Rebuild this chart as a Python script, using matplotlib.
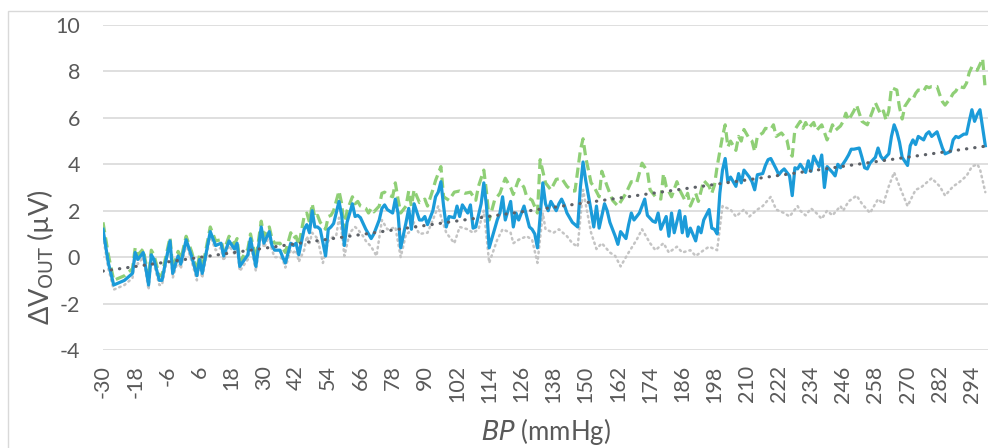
import matplotlib.pyplot as plt
from matplotlib.patches import Rectangle

plt.rcParams.update({
    "font.family": "sans-serif",
    "font.sans-serif": ["Lato", "DejaVu Sans"],
    "mathtext.default": "regular",
    "axes.unicode_minus": False,
})

# blue (solid) series: BP (mmHg) and dV_out (uV)
blue_bp = [-30, -28, -26, -22, -19, -18, -17, -15, -13, -12, -11, -9, -8, -7, -5, -4, -2, -1,
           1, 3, 5, 6, 7, 9, 10, 12, 14, 15, 17, 19, 20, 21, 24, 25, 27, 29, 30, 32, 33, 34,
           36, 37, 38, 40, 41, 42, 43, 45, 46, 47, 48, 49, 50, 51, 53, 54, 55, 56, 58, 59,
           60, 61, 63, 64, 65, 66, 68, 69, 70, 71, 73, 74, 75, 76, 78, 79, 80, 81, 83, 84,
           85, 86, 88, 89, 90, 91, 93, 94, 95, 96, 97, 98, 99, 101, 102, 103, 104, 106, 107, 108,
           109, 111, 112, 113, 114, 116, 117, 118, 119, 120, 122, 123, 124, 125, 127, 129, 130, 131, 132, 133,
           134, 135, 136, 137, 139, 140, 141, 142, 143, 145, 147, 148, 149, 150, 152, 153, 154, 155, 157, 158,
           159, 160, 161, 162, 163, 165, 166, 167, 168, 170, 171, 172, 173, 175, 176, 177, 178, 180, 181, 182,
           183, 185, 186, 187, 188, 189, 191, 192, 193, 194, 196, 197, 198, 199, 200, 201, 202, 203, 204, 206,
           207, 208, 209, 211, 212, 213, 214, 216, 217, 218, 219, 221, 222, 223, 224, 226, 227, 228, 229, 230,
           232, 233, 234, 235, 237, 238, 239, 240, 242, 243, 244, 245, 247, 248, 249, 250, 252, 253, 254, 255,
           256, 258, 259, 260, 261, 263, 264, 265, 266, 267, 268, 270, 271, 272, 273, 274, 276, 277, 278, 279,
           281, 282, 283, 284, 286, 287, 288, 289, 291, 292, 293, 294, 295, 296, 297, 299]
blue_dv = [1.2, -0.25, -1.2, -1.0, -0.7, 0.2, -0.1, 0.2, -1.2, 0.1, -0.1, -1.0, -1.0, -0.4, 0.7, -0.7, 0.05, -0.3,
           0.75, 0.05, -0.8, -0.1, -0.7, 0.5, 1.1, 0.5, 0.6, 0.05, 0.7, 0.35, 0.6, -0.4, 0.1, 0.8, -0.4, 1.3, 0.6, 1.1, 0.5, 0.3,
           0.3, 0.0, -0.25, 0.6, 0.5, 0.6, 0.1, 1.2, 1.4, 1.05, 2.0, 1.3, 1.3, 1.2, 0.05, 1.2, 1.3, 1.45, 2.4, 1.8,
           0.5, 1.5, 2.3, 1.75, 1.8, 1.7, 1.2, 1.0, 0.8, 1.0, 1.6, 2.1, 2.25, 2.05, 1.9, 2.5, 1.9, 0.4, 1.5, 2.1,
           1.2, 2.3, 1.6, 1.6, 1.75, 1.4, 2.0, 2.6, 2.8, 3.25, 2.2, 1.3, 1.75, 1.7, 2.2, 1.75, 2.25, 1.9, 2.25, 1.25,
           1.3, 2.3, 3.2, 2.2, 0.4, 1.2, 1.6, 1.9, 2.6, 1.6, 2.4, 1.3, 1.9, 1.6, 2.2, 1.3, 1.2, 1.0, 0.4, 1.75,
           3.2, 2.3, 2.0, 2.4, 2.0, 2.3, 2.5, 2.25, 1.9, 1.5, 1.3, 3.0, 4.1, 3.3, 2.0, 1.3, 2.2, 1.25, 2.3, 2.0,
           1.5, 1.2, 0.9, 0.55, 1.1, 0.8, 1.4, 1.9, 1.6, 1.9, 2.2, 2.5, 1.8, 1.55, 1.5, 1.9, 1.2, 1.75, 0.9, 1.9,
           1.05, 2.0, 1.05, 1.75, 0.9, 1.25, 0.7, 1.3, 1.05, 1.6, 2.05, 1.25, 1.2, 1.0, 2.75, 3.75, 4.25, 3.25, 3.45, 3.05,
           3.6, 3.2, 3.75, 3.45, 3.25, 2.9, 3.55, 3.6, 3.95, 4.2, 4.25, 3.8, 3.55, 3.7, 3.8, 3.5, 2.65, 3.85, 3.8, 4.0,
           3.65, 4.15, 3.7, 4.35, 3.9, 4.4, 3.0, 3.9, 3.65, 3.5, 4.0, 3.85, 4.2, 4.4, 4.65, 4.65, 4.7, 4.3, 3.85, 3.8,
           4.05, 4.3, 4.7, 4.35, 4.2, 4.45, 5.2, 5.7, 5.4, 4.95, 4.3, 3.95, 4.8, 5.05, 4.85, 5.2, 5.05, 5.3, 5.4, 5.2,
           5.4, 5.05, 4.7, 4.45, 4.55, 5.05, 5.2, 5.15, 5.3, 5.3, 5.85, 6.35, 5.85, 6.15, 6.35, 4.8]

# green (dashed) series
green_bp = [-30, -28, -26, -22, -19, -18, -17, -15, -13, -12, -11, -9, -8, -7, -5, -4, -2, -1,
            1, 3, 5, 6, 7, 9, 10, 12, 14, 15, 17, 19, 20, 21, 24, 25, 27, 29, 30, 32, 33, 34,
            36, 37, 38, 40, 41, 42, 43, 45, 46, 47, 48, 49, 50, 51, 53, 54, 55, 56, 58, 59,
            60, 61, 63, 64, 65, 66, 68, 69, 70, 71, 73, 74, 75, 76, 78, 79, 80, 81, 83, 84,
            85, 86, 88, 89, 90, 91, 93, 94, 95, 96, 97, 99, 101, 103, 105, 107, 109, 110, 112, 113,
            114, 116, 118, 120, 122, 123, 125, 127, 128, 130, 132, 133, 135, 137, 139, 141, 143, 145, 146, 148,
            149, 150, 152, 153, 155, 156, 158, 160, 162, 165, 167, 169, 171, 173, 174, 176, 178, 179, 180, 182,
            184, 185, 187, 188, 189, 191, 192, 194, 196, 197, 198, 199, 201, 202, 203, 204, 206, 207, 208, 209,
            211, 212, 213, 214, 216, 217, 219, 220, 221, 223, 225, 226, 227, 228, 230, 231, 232, 233, 235, 236,
            238, 240, 241, 242, 243, 245, 246, 247, 248, 250, 251, 252, 253, 255, 257, 258, 260, 261, 262, 263,
            264, 266, 267, 268, 269, 271, 272, 273, 274, 276, 277, 278, 279, 281, 282, 283, 284, 286, 287, 288,
            289, 291, 292, 293, 294, 296, 297, 298, 299]
green_dv = [1.5, 0.1, -1.0, -0.8, -0.5, 0.4, 0.1, 0.35, -0.9, 0.3, 0.1, -0.8, -0.8, -0.2, 0.85, -0.5, 0.25, -0.1,
            0.9, 0.25, -0.6, 0.1, -0.5, 0.7, 1.3, 0.7, 0.75, 0.25, 0.9, 0.55, 0.8, -0.2, 0.35, 1.0, -0.1, 1.55, 0.9, 1.3, 0.8, 0.6,
            0.6, 0.4, 0.2, 1.05, 0.8, 0.9, 0.5, 1.75, 1.9, 1.5, 2.3, 1.7, 1.8, 1.5, 1.2, 1.75, 1.8, 2.0, 2.85, 2.3,
            1.2, 2.0, 2.6, 2.3, 2.4, 2.2, 2.1, 1.9, 2.1, 1.95, 2.2, 2.75, 2.8, 2.7, 2.6, 3.2, 2.5, 1.9, 2.2, 2.85,
            2.2, 2.9, 2.35, 2.4, 2.5, 2.2, 2.9, 3.3, 3.6, 3.9, 2.6, 2.45, 2.8, 2.85, 2.75, 2.8, 2.45, 3.05, 3.75, 2.8,
            1.6, 2.45, 2.75, 3.4, 3.0, 2.7, 3.35, 3.0, 2.6, 2.45, 1.9, 4.2, 3.2, 2.9, 3.35, 3.4, 3.05, 2.85, 2.85, 4.6,
            5.1, 4.3, 3.2, 3.05, 2.6, 3.7, 3.05, 2.45, 2.2, 2.75, 3.25, 3.2, 4.05, 3.7, 2.9, 2.6, 2.5, 3.6, 3.05, 2.6,
            3.25, 2.9, 2.45, 2.75, 2.2, 2.75, 2.4, 3.3, 3.05, 2.75, 3.1, 3.9, 5.2, 5.7, 4.75, 5.0, 4.6, 5.2, 5.0, 5.5,
            5.1, 5.0, 4.55, 5.2, 5.35, 5.55, 5.5, 5.7, 5.2, 5.35, 5.05, 4.5, 4.35, 5.5, 5.85, 5.55, 5.8, 5.55, 5.8, 5.45,
            5.7, 5.05, 5.35, 5.7, 5.45, 5.65, 5.85, 6.2, 5.9, 6.3, 6.55, 6.2, 5.85, 5.7, 6.3, 6.65, 6.15, 6.3, 5.9, 6.3,
            7.3, 7.2, 6.45, 5.95, 6.5, 6.85, 6.8, 7.05, 7.2, 7.15, 7.35, 7.3, 7.35, 7.35, 7.0, 6.7, 6.55, 6.85, 7.05, 7.15,
            7.35, 7.3, 7.5, 7.95, 8.2, 8.05, 8.3, 8.55, 7.2]

# light grey (dotted) series
grey_bp = [-30, -28, -26, -22, -19, -18, -17, -15, -13, -12, -11, -9, -8, -7, -5, -4, -2, -1,
           1, 3, 5, 6, 7, 9, 10, 12, 14, 15, 17, 19, 20, 21, 24, 25, 27, 29, 30, 32, 33, 34,
           36, 37, 38, 40, 41, 42, 43, 45, 46, 47, 48, 50, 52, 54, 56, 57, 58, 59, 60, 62,
           64, 65, 67, 68, 70, 72, 74, 76, 77, 79, 81, 83, 84, 86, 87, 88, 91, 93, 95, 96,
           98, 101, 103, 106, 108, 110, 112, 113, 114, 117, 119, 122, 123, 125, 128, 130, 132, 134, 135, 138,
           140, 143, 145, 147, 149, 152, 154, 156, 159, 161, 163, 166, 169, 171, 174, 176, 179, 181, 184, 186,
           189, 191, 194, 196, 199, 201, 204, 206, 209, 211, 214, 216, 219, 221, 224, 226, 229, 230, 232, 234,
           236, 238, 240, 242, 245, 246, 248, 251, 253, 256, 259, 261, 263, 265, 267, 270, 273, 275, 277, 279,
           282, 284, 287, 289, 292, 294, 296, 297, 299]
grey_dv = [0.9, -0.5, -1.4, -1.2, -0.9, 0.0, -0.3, 0.0, -1.4, -0.1, -0.3, -1.2, -1.2, -0.6, 0.5, -0.9, -0.15, -0.5,
           0.55, -0.15, -1.0, -0.3, -0.9, 0.3, 0.9, 0.3, 0.4, -0.15, 0.5, 0.15, 0.4, -0.6, -0.1, 0.6, -0.6, 1.1, 0.4, 0.9, 0.3, 0.0,
           0.0, -0.1, -0.45, 0.3, 0.2, 0.3, -0.2, 0.3, 0.9, 0.6, 1.05, 0.8, -0.25, 0.7, 0.9, 0.95, 1.7, 1.1, 0.05, 1.05,
           1.3, 1.2, 0.9, 0.7, 0.45, 0.05, 1.6, 1.2, 1.2, 1.3, 0.0, 1.0, 1.05, 1.5, 1.2, 1.0, 1.05, 1.6, 2.2, 1.75,
           1.05, 0.6, 1.3, 1.2, 1.05, 1.2, 2.0, 0.9, -0.25, 0.75, 1.2, 1.05, 0.6, 0.75, 0.9, 0.75, -0.25, 1.9, 1.2, 1.05,
           1.2, 0.9, 0.6, 0.45, 2.9, 1.05, 0.35, 0.6, 0.2, 0.05, -0.4, 0.2, 0.75, 1.2, 0.6, 0.3, 0.6, 0.2, 0.45, 0.2,
           0.3, 0.05, 0.3, 0.45, 0.3, 2.2, 2.05, 1.75, 2.05, 1.75, 2.05, 2.2, 2.6, 2.05, 1.9, 1.75, 2.2, 2.0, 1.8, 2.1,
           1.9, 1.65, 2.0, 1.8, 2.2, 2.0, 2.4, 2.65, 2.3, 1.9, 2.5, 2.3, 3.05, 3.65, 3.05, 2.2, 2.9, 3.0, 3.2, 3.4,
           3.05, 2.65, 3.05, 3.2, 3.5, 3.9, 4.0, 3.8, 2.8]

# linear trend line end points
trend_bp = [-30, 299]
trend_dv = [-0.6, 4.78]

x_ticks = list(range(-30, 300, 12))
y_ticks = list(range(-4, 11, 2))

text_grey = "#595959"

fig = plt.figure(figsize=(9.88, 4.48), dpi=100)
fig.patches.append(Rectangle((8 / 988, -0.1), 1.2, 1.1 - 11 / 448, transform=fig.transFigure,
                             fill=False, edgecolor="#d9d9d9", lw=1.0))
ax = fig.add_axes([103 / 988, 1 - 350 / 448, 1 - 103 / 988, 325 / 448])

ax.plot(grey_bp, grey_dv, color="#c4c4c4", lw=1.8, ls=(0, (0.6, 1.6)), dash_capstyle="round")
ax.plot(green_bp, green_dv, color="#8fcf76", lw=2.3, ls=(0, (3.2, 1.6)))
ax.plot(blue_bp, blue_dv, color="#1b9bd9", lw=2.3, solid_joinstyle="round")
ax.plot(trend_bp, trend_dv, color="#5d6167", lw=2.3, ls=(0, (0.1, 2.5)), dash_capstyle="round")

ax.set_xlim(-30, 300)
ax.set_ylim(-4, 10)
ax.set_xticks(x_ticks)
ax.set_yticks(y_ticks)
ax.grid(axis="y", color="#d9d9d9", lw=1.2)
ax.set_axisbelow(True)
for s in ax.spines.values():
    s.set_visible(False)
ax.tick_params(axis="both", length=0, colors=text_grey, labelsize=15.5)
ax.tick_params(axis="y", pad=16.5)
ax.tick_params(axis="x", pad=11)
for lab in ax.get_xticklabels():
    lab.set_rotation(90)
    lab.set_va("top")
    lab.set_ha("center")

ax.set_xlabel(r"$\it{BP}$ (mmHg)", fontsize=18.5, color=text_grey)
ax.xaxis.set_label_coords(0.5, -0.252)
ax.xaxis.label.set_va("center")
ax.set_ylabel(r"ΔV$_{\mathrm{OUT}}$ (µV)", fontsize=19.5, color=text_grey)
ax.yaxis.set_label_coords(-0.071, 0.286)
ax.yaxis.label.set_va("center")

plt.savefig("out.png", dpi=100)
